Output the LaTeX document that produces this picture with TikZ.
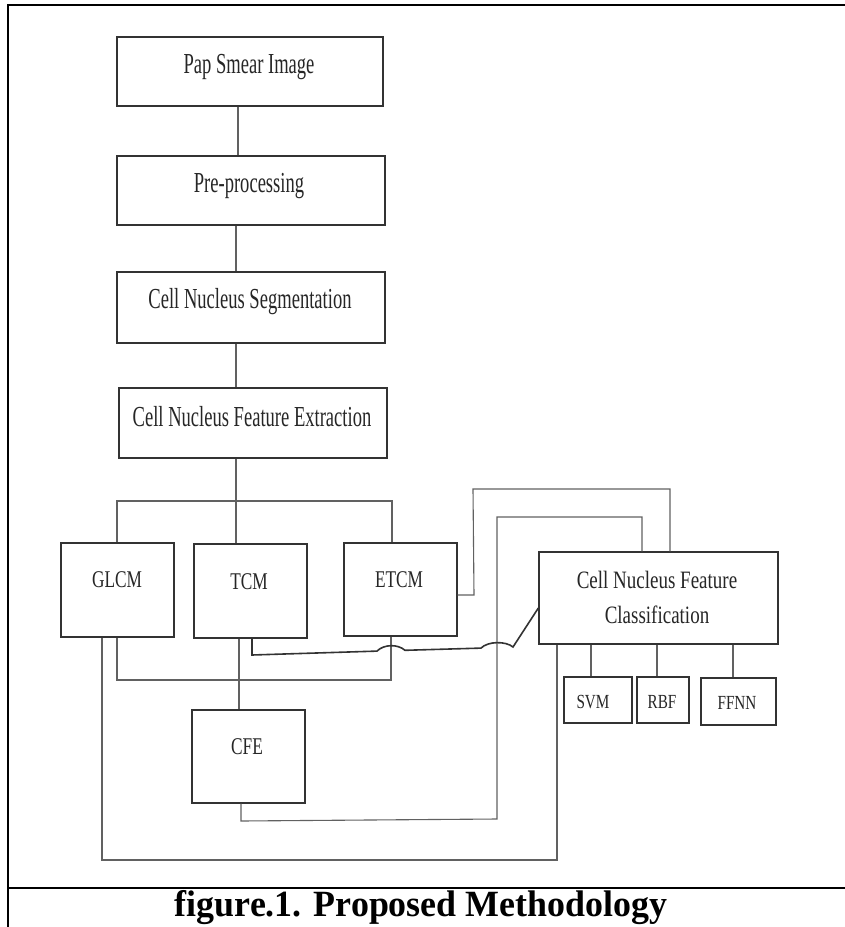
\documentclass[tikz,border=0pt]{standalone}
\usepackage{fontspec}
\setmainfont{Liberation Serif}
\newfontfamily\fbig[FakeStretch=0.64]{Liberation Serif}
\newfontfamily\fmid[FakeStretch=0.72]{Liberation Serif}
\newfontfamily\fsm[FakeStretch=0.76]{Liberation Serif}
\newfontfamily\fcap[FakeStretch=0.97]{Liberation Serif}
\begin{document}
\begin{tikzpicture}[x=1pt,y=-1pt,
  box/.style={draw=black!80, line width=1.3pt, rectangle, inner sep=0pt},
  conn/.style={draw=black!62, line width=1.1pt},
  frame/.style={draw=black, line width=2.6pt},
  tbig/.style={text=black!85, inner sep=0pt, font=\fbig\fontsize{29}{32}\selectfont},
  tmid/.style={text=black!85, inner sep=0pt, font=\fmid\fontsize{24}{28}\selectfont},
  tcl/.style={text=black!85, inner sep=0pt, align=center, font=\fsm\fontsize{25}{35}\selectfont},
  tsm/.style={text=black!85, inner sep=0pt, font=\fsm\fontsize{20}{24}\selectfont},
  tcap/.style={text=black, inner sep=0pt, font=\fcap\bfseries\fontsize{37}{40}\selectfont}
]
\useasboundingbox (0,0) rectangle (844,927);
% outer frame
\draw[frame] (850,5) -- (8,5) -- (8,935);
\draw[frame] (8,888) -- (850,888);

% boxes
\node[box, minimum width=266pt, minimum height=69pt] (pap) at (250,71.5) {};
\node[box, minimum width=268pt, minimum height=69pt] (pre) at (251,190.5) {};
\node[box, minimum width=268pt, minimum height=71pt] (seg) at (251,307.5) {};
\node[box, minimum width=268pt, minimum height=70pt] (fe) at (253,423) {};
\node[box, minimum width=113pt, minimum height=94pt] (glcm) at (117.5,590) {};
\node[box, minimum width=113pt, minimum height=94pt] (tcm) at (250.5,591) {};
\node[box, minimum width=113pt, minimum height=93pt] (etcm) at (400.5,589.5) {};
\node[box, minimum width=239pt, minimum height=92pt] (cnfc) at (658.5,598) {};
\node[box, minimum width=113pt, minimum height=93pt] (cfe) at (248.5,756.5) {};
\node[box, minimum width=68pt, minimum height=46pt] (svm) at (598,700) {};
\node[box, minimum width=52pt, minimum height=46pt] (rbf) at (663,700) {};
\node[box, minimum width=75pt, minimum height=47pt] (ffnn) at (738.5,701.5) {};

% texts
\node[tbig] (papt) at (249,67) {Pap Smear Image};
\node[tbig] (pret) at (249,186) {Pre-processing};
\node[tbig] (segt) at (250,302) {Cell Nucleus Segmentation};
\node[tbig] (fet) at (252,417) {Cell Nucleus Feature Extraction};
\node[tmid] (glcmt) at (117,580) {GLCM};
\node[tmid] (tcmt) at (249,582) {TCM};
\node[tmid] (etcmt) at (399,580) {ETCM};
\node[tmid] (cfet) at (247,747) {CFE};
\node[tcl] (cnfct) at (657,597) {Cell Nucleus Feature\\Classification};
\node[tsm] (svmt) at (593,702) {SVM};
\node[tsm] (rbft) at (662,702) {RBF};
\node[tsm] (ffnnt) at (737,703) {FFNN};
\node[tcap] (cap) at (421,908) {figure.1. Proposed Methodology};

% main chain
\coordinate (v1) at (238,0);
\coordinate (v2) at (236,0);
\draw[conn] (pap.south -| v1) -- (pre.north -| v1);
\draw[conn] (pre.south -| v2) -- (seg.north -| v2);
\draw[conn] (seg.south -| v2) -- (fe.north -| v2);
\draw[conn] (fe.south -| v2) -- (tcm.north -| v2);
% bus to GLCM and ETCM
\coordinate (busl) at (117,501);
\coordinate (busr) at (392,501);
\draw[conn] (glcm.north -| busl) -- (busl) -- (busr) -- (etcm.north -| busr);
% GLCM - ETCM bottom link
\coordinate (gel) at (117,680);
\coordinate (ger) at (391,680);
\draw[conn] (glcm.south -| gel) -- (gel) -- (ger) -- (etcm.south -| ger);
% GLCM - classification big loop
\coordinate (bl) at (102,860);
\coordinate (br) at (557,860);
\draw[conn] (glcm.south -| bl) -- (bl) -- (br) -- (cnfc.south -| br);
% TCM - CFE
\coordinate (tc) at (239,0);
\draw[conn] (tcm.south -| tc) -- (cfe.north -| tc);
% CFE - classification loop
\coordinate (c1) at (241,821);
\coordinate (c2) at (497,819);
\coordinate (c3) at (497,517);
\coordinate (c4) at (642,517);
\draw[conn] (cfe.south -| c1) -- (c1) -- (c2) -- (c3) -- (c4) -- (cnfc.north -| c4);
% ETCM - classification loop
\coordinate (e1) at (474,595);
\coordinate (e2) at (473,489);
\coordinate (e3) at (670,489);
\draw[conn] (etcm.east |- e1) -- (e1) -- (e2) -- (e3) -- (cnfc.north -| e3);
% TCM - classification with hops
\coordinate (t1) at (252,655);
\coordinate (t2) at (513,647);
\coordinate (t3) at (539,608);
\draw[conn, line width=1.6pt, draw=black!80] (tcm.south -| t1) -- (t1) -- (377,651.1)
  .. controls (384,644) and (398,644) .. (405,650.3) -- (481,648.1)
  .. controls (488,641) and (506,641) .. (t2) -- (cnfc.west |- t3);
% classification - classifiers
\coordinate (s1) at (591,0);
\coordinate (s2) at (657,0);
\coordinate (s3) at (733,0);
\draw[conn] (cnfc.south -| s1) -- (svm.north -| s1);
\draw[conn] (cnfc.south -| s2) -- (rbf.north -| s2);
\draw[conn] (cnfc.south -| s3) -- (ffnn.north -| s3);
\end{tikzpicture}
\end{document}
